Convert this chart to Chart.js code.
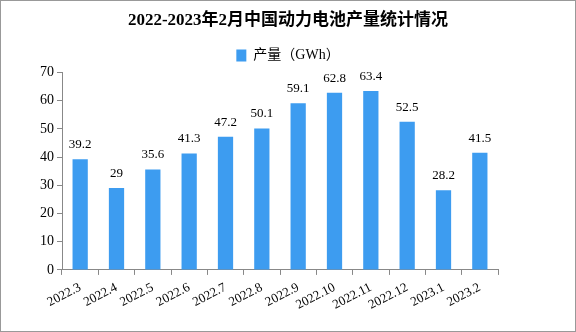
<!DOCTYPE html>
<html>
<head>
<meta charset="utf-8">
<script src="https://cdn.jsdelivr.net/npm/chart.js@4/dist/chart.umd.min.js"></script>
<style>
  html, body { margin: 0; padding: 0; background: #fff; }
  canvas { display: block; }
</style>
</head>
<body>
<canvas id="chart" width="576" height="332"></canvas>
<script>
// data
const months = ["2022.3", "2022.4", "2022.5", "2022.6", "2022.7", "2022.8", "2022.9", "2022.10", "2022.11", "2022.12", "2023.1", "2023.2"];
const output = [39.2, 29, 35.6, 41.3, 47.2, 50.1, 59.1, 62.8, 63.4, 52.5, 28.2, 41.5];
const yTicks = [0, 10, 20, 30, 40, 50, 60, 70];

const fontFamily = "'Liberation Serif', 'Noto Sans CJK SC', serif";
const barColor = "#3d9cf0";

// value labels over each bar
const barLabels = {
  id: "barLabels",
  afterDatasetsDraw(chart) {
    const ctx = chart.ctx;
    const meta = chart.getDatasetMeta(0);
    ctx.save();
    ctx.font = "13px " + fontFamily;
    ctx.fillStyle = "#000";
    ctx.textAlign = "center";
    ctx.textBaseline = "bottom";
    meta.data.forEach((bar, i) => {
      ctx.fillText(String(output[i]), bar.x, bar.y - 8);
    });
    ctx.restore();
  }
};

// thin grey frame round the picture
const frame = {
  id: "frame",
  afterDraw(chart) {
    const ctx = chart.ctx;
    ctx.save();
    ctx.strokeStyle = "#999";
    ctx.lineWidth = 1;
    ctx.strokeRect(0.5, 0.5, chart.width - 1, chart.height - 1);
    ctx.restore();
  }
};

const ctx = document.getElementById("chart").getContext("2d");
new Chart(ctx, {
  type: "bar",
  data: {
    labels: months,
    datasets: [{
      label: "产量（GWh）",
      data: output,
      backgroundColor: barColor,
      barPercentage: 0.42,
      categoryPercentage: 1.0
    }]
  },
  options: {
    responsive: false,
    animation: false,
    devicePixelRatio: 1,
    layout: { padding: { left: 10, right: 10, top: 4, bottom: 14 } },
    plugins: {
      title: {
        display: true,
        text: "2022-2023年2月中国动力电池产量统计情况",
        color: "#000",
        font: { family: fontFamily, size: 17, weight: "bold" },
        padding: { top: 6, bottom: 8 }
      },
      legend: {
        display: true,
        labels: {
          color: "#000",
          boxWidth: 10,
          boxHeight: 12,
          font: { family: fontFamily, size: 14 }
        }
      },
      tooltip: { enabled: false }
    },
    scales: {
      x: {
        offset: true,
        grid: {
          offset: true,
          drawOnChartArea: false,
          drawTicks: true,
          tickLength: 5,
          color: "#888"
        },
        border: { color: "#888" },
        ticks: {
          color: "#000",
          font: { family: fontFamily, size: 13 },
          minRotation: 27,
          maxRotation: 27,
          autoSkip: false,
          padding: 5
        }
      },
      y: {
        min: 0,
        max: 70,
        afterBuildTicks(axis) { axis.ticks = yTicks.map(v => ({ value: v })); },
        afterFit(axis) { axis.width = 52; },
        grid: {
          drawOnChartArea: false,
          drawTicks: true,
          tickLength: 5,
          color: "#888"
        },
        border: { color: "#888" },
        ticks: {
          color: "#000",
          font: { family: fontFamily, size: 14 },
          padding: 3
        }
      },
      // empty right-hand strip so the plot ends where the reference's does
      side: {
        position: "right",
        min: 0,
        max: 70,
        display: true,
        afterFit(axis) { axis.width = 68; },
        grid: { display: false },
        border: { display: false },
        ticks: { display: false }
      }
    }
  },
  plugins: [barLabels, frame]
});
</script>
</body>
</html>
